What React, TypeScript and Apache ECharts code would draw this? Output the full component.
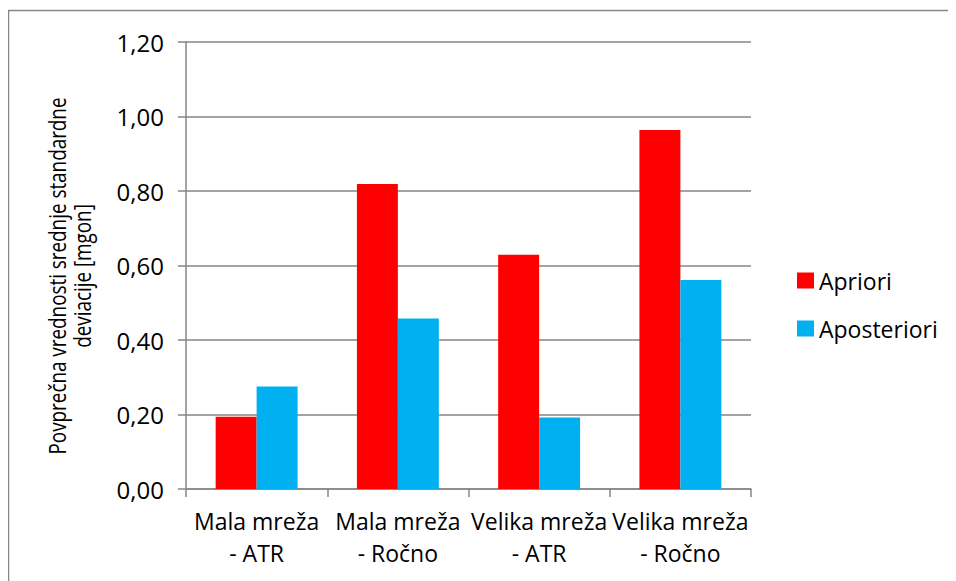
import React, { useEffect, useRef } from "react";
import * as echarts from "echarts";

const categories = [
  "Mala mreža\n- ATR",
  "Mala mreža\n- Ročno",
  "Velika mreža\n- ATR",
  "Velika mreža\n- Ročno",
];
const apriori = [0.194, 0.819, 0.629, 0.964];
const aposteriori = [0.275, 0.458, 0.192, 0.561];
const seriesNames = ["Apriori", "Aposteriori"];
const yAxisTitle = "Povprečna vrednosti srednje standardne\ndeviacije [mgon]";

const FONT = "'Open Sans', sans-serif";
const GRAY = "#868686";

export default function App() {
  const ref = useRef<HTMLDivElement>(null);
  useEffect(() => {
    document.body.style.margin = "8px 8px 0 8px";
    if (!ref.current) return;
    const chart = echarts.init(ref.current, null, { renderer: "svg" });
    chart.setOption({
      animation: false,
      backgroundColor: "#ffffff",
      textStyle: { fontFamily: FONT },
      grid: { left: 178, top: 34, right: 205, bottom: 92, containLabel: false },
      legend: {
        orient: "vertical",
        left: 784,
        top: 256,
        itemWidth: 17,
        itemHeight: 16,
        itemGap: 25,
        icon: "rect",
        textStyle: { fontFamily: FONT, fontSize: 23, color: "#000", lineHeight: 23 },
        data: seriesNames,
      },
      xAxis: {
        type: "category",
        data: categories,
        axisLine: { lineStyle: { color: GRAY, width: 1.5 } },
        axisTick: { show: true, length: 8, lineStyle: { color: GRAY, width: 1.5 } },
        axisLabel: {
          interval: 0,
          margin: 16,
          fontFamily: FONT,
          fontSize: 23,
          color: "#000",
          lineHeight: 32,
          align: "center",
        },
      },
      yAxis: {
        type: "value",
        min: 0,
        max: 1.2,
        interval: 0.2,
        axisLine: { show: true, lineStyle: { color: GRAY, width: 1.5 } },
        axisTick: { show: true, length: 8, lineStyle: { color: GRAY, width: 1.5 } },
        splitLine: { show: true, lineStyle: { color: GRAY, width: 1.5 } },
        axisLabel: {
          margin: 22,
          fontFamily: FONT,
          fontSize: 24,
          color: "#000",
          formatter: (v: number) => v.toFixed(2).replace(".", ","),
        },
      },
      series: [
        {
          name: seriesNames[0],
          type: "bar",
          data: apriori,
          itemStyle: { color: "#FF0000" },
          barGap: "0%",
          barCategoryGap: "42%",
        },
        {
          name: seriesNames[1],
          type: "bar",
          data: aposteriori,
          itemStyle: { color: "#00B0F0" },
          barGap: "0%",
          barCategoryGap: "42%",
        },
      ],
      graphic: [
        {
          type: "text",
          x: 62,
          y: 268,
          rotation: Math.PI / 2,
          scaleX: 0.82,
          scaleY: 1,
          silent: true,
          style: {
            text: yAxisTitle,
            font: "23px 'Open Sans', sans-serif",
            fill: "#000",
            align: "center",
            verticalAlign: "middle",
            lineHeight: 25,
          },
        },
        {
          type: "line",
          shape: { x1: 0.5, y1: 2.5, x2: 0.5, y2: 600 },
          style: { stroke: GRAY, lineWidth: 1.5 },
          silent: true,
        },
        {
          type: "line",
          shape: { x1: 0, y1: 2.5, x2: 960, y2: 2.5 },
          style: { stroke: GRAY, lineWidth: 1.5 },
          silent: true,
        },
      ],
    });
    return () => chart.dispose();
  }, []);
  return <div ref={ref} style={{ width: 948, height: 573 }} />;
}
